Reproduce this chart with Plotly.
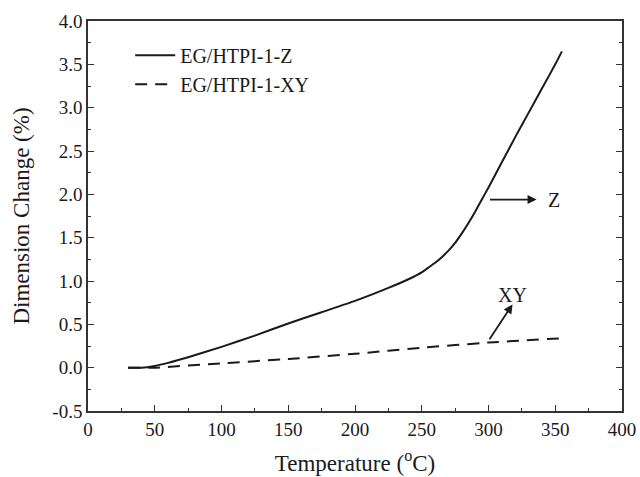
import plotly.graph_objects as go

z_temp = [30, 40, 50, 60, 75, 100, 125, 150, 175, 200, 225, 240, 250, 255, 260, 265, 270, 275, 280, 285, 290, 295, 300, 310, 320, 330, 340, 350, 355]
z_vals = [0.0, 0.0, 0.02, 0.055, 0.12, 0.24, 0.37, 0.51, 0.64, 0.77, 0.92, 1.02, 1.10, 1.155, 1.21, 1.275, 1.35, 1.44, 1.55, 1.67, 1.80, 1.94, 2.08, 2.37, 2.66, 2.94, 3.22, 3.50, 3.65]
xy_temp = [30, 50, 100, 150, 200, 250, 300, 355]
xy_vals = [0.0, 0.0, 0.05, 0.10, 0.16, 0.23, 0.29, 0.34]

FONT = "Liberation Serif"
AX = "#333333"
INK = "#1a1a1a"

fig = go.Figure()
fig.add_trace(go.Scatter(x=z_temp, y=z_vals, mode="lines", name="EG/HTPI-1-Z",
                         line=dict(color=INK, width=2, shape="spline", smoothing=0.5)))
fig.add_trace(go.Scatter(x=xy_temp, y=xy_vals, mode="lines", name="EG/HTPI-1-XY",
                         line=dict(color=INK, width=2, dash="12px,8px", shape="spline", smoothing=0.3)))

fig.add_annotation(x=336, y=1.94, ax=300, ay=1.94, xref="x", yref="y", axref="x", ayref="y",
                   text="", showarrow=True, arrowhead=2, arrowsize=1.0, arrowwidth=1.8, arrowcolor=INK)
fig.add_annotation(x=343, y=1.94, xref="x", yref="y", text="Z", showarrow=False,
                   xanchor="left", font=dict(family=FONT, size=20, color=INK))
fig.add_annotation(x=318, y=0.73, ax=300, ay=0.31, xref="x", yref="y", axref="x", ayref="y",
                   text="", showarrow=True, arrowhead=2, arrowsize=1.0, arrowwidth=1.8, arrowcolor=INK)
fig.add_annotation(x=318, y=0.84, xref="x", yref="y", text="XY", showarrow=False,
                   font=dict(family=FONT, size=20, color=INK))

axis_common = dict(showgrid=False, zeroline=False, showline=True, linecolor=AX, linewidth=1.5,
                   ticks="inside", ticklen=6, tickwidth=1.2, tickcolor=AX, automargin=False,
                   tickfont=dict(family=FONT, size=19, color=INK))

fig.update_xaxes(range=[0, 400], tickvals=[0, 50, 100, 150, 200, 250, 300, 350, 400],
                 ticktext=["0", "50", "100", "150", "200", "250", "300", "350", "400"],
                 mirror=True,
                 minor=dict(ticks="inside", ticklen=3, dtick=25, tick0=0, tickcolor=AX, tickwidth=1.2),
                 title=dict(text="Temperature (<sup>o</sup>C)", font=dict(family=FONT, size=23, color=INK), standoff=16),
                 **axis_common)
fig.update_yaxes(range=[-0.5, 4.0], tickvals=[-0.5, 0, 0.5, 1.0, 1.5, 2.0, 2.5, 3.0, 3.5, 4.0],
                 ticktext=["-0.5", "0.0", "0.5", "1.0", "1.5", "2.0", "2.5", "3.0", "3.5", "4.0"],
                 mirror="ticks",
                 minor=dict(ticks="inside", ticklen=3, dtick=0.25, tick0=0, tickcolor=AX, tickwidth=1.2),
                 title=dict(text="Dimension Change (%)", font=dict(family=FONT, size=23, color=INK), standoff=16),
                 **axis_common)

fig.update_layout(
    width=640, height=477,
    margin=dict(l=88, r=18, t=21, b=66),
    paper_bgcolor="white", plot_bgcolor="white",
    showlegend=True,
    legend=dict(x=0.079, y=0.962, xanchor="left", yanchor="top", bgcolor="rgba(0,0,0,0)",
                font=dict(family=FONT, size=20, color=INK), tracegroupgap=0, itemwidth=40),
)

fig.write_html("out.html")
